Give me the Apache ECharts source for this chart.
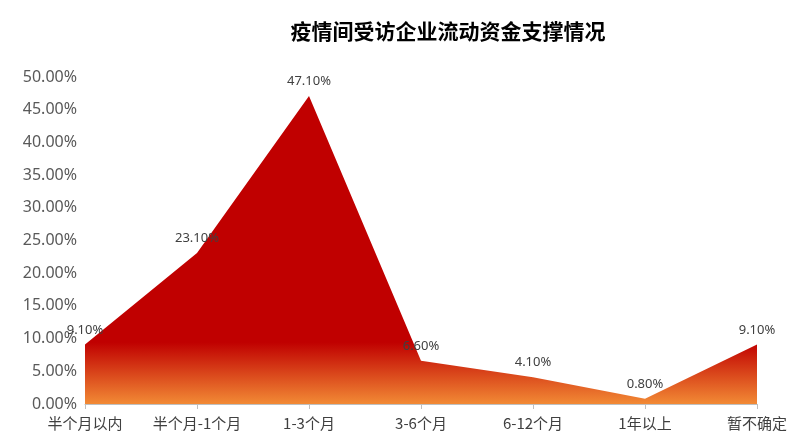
<!DOCTYPE html>
<html><head><meta charset="utf-8">
<script src="https://cdn.jsdelivr.net/npm/echarts@6/dist/echarts.min.js"></script>
<style>html,body{margin:0;padding:0;background:#fff}</style>
</head><body>
<div id="main" style="width:800px;height:445px"></div>
<script>
var categories = ['半个月以内', '半个月-1个月', '1-3个月', '3-6个月', '6-12个月', '1年以上', '暂不确定'];
var values = [9.1, 23.1, 47.1, 6.6, 4.1, 0.8, 9.1];
var yTicks = [0, 50, 5];

var myChart = echarts.init(document.getElementById('main'));
var option = {
    title: {
        text: '疫情间受访企业流动资金支撑情况',
        left: 443, top: 16, textAlign: 'center',
        textStyle: {fontSize: 21, fontWeight: 'bold', color: '#000', fontFamily: 'Noto Sans CJK SC'}
    },
    grid: {left: 85, right: 43, top: 77, bottom: 41},
    xAxis: {
        type: 'category', data: categories, boundaryGap: false,
        axisLine: {lineStyle: {color: '#bfbfbf'}},
        axisTick: {show: true, interval: 0, lineStyle: {color: '#bfbfbf'}},
        axisLabel: {interval: 0, color: '#404040', fontSize: 15, fontFamily: 'Noto Sans CJK SC', margin: 12}
    },
    yAxis: {
        type: 'value', min: yTicks[0], max: yTicks[1], interval: yTicks[2],
        splitLine: {show: false},
        axisLine: {show: false},
        axisLabel: {color: '#595959', fontSize: 16, fontFamily: 'Noto Sans', formatter: function (v) { return v.toFixed(2) + '%'; }}
    },
    series: [{
        type: 'line', data: values, symbol: 'circle', symbolSize: 0, showSymbol: true,
        lineStyle: {width: 0},
        areaStyle: {
            opacity: 1,
            color: new echarts.graphic.LinearGradient(0, 0, 0, 1, [
                {offset: 0, color: '#C00000'},
                {offset: 0.8, color: '#C00000'},
                {offset: 1, color: '#F28A35'}
            ])
        },
        label: {
            show: true, position: 'top', distance: 8, color: '#404040', fontSize: 13,
            fontFamily: 'Noto Sans',
            formatter: function (p) { return p.value.toFixed(2) + '%'; }
        }
    }]
};
myChart.setOption(option);
</script>
</body></html>
